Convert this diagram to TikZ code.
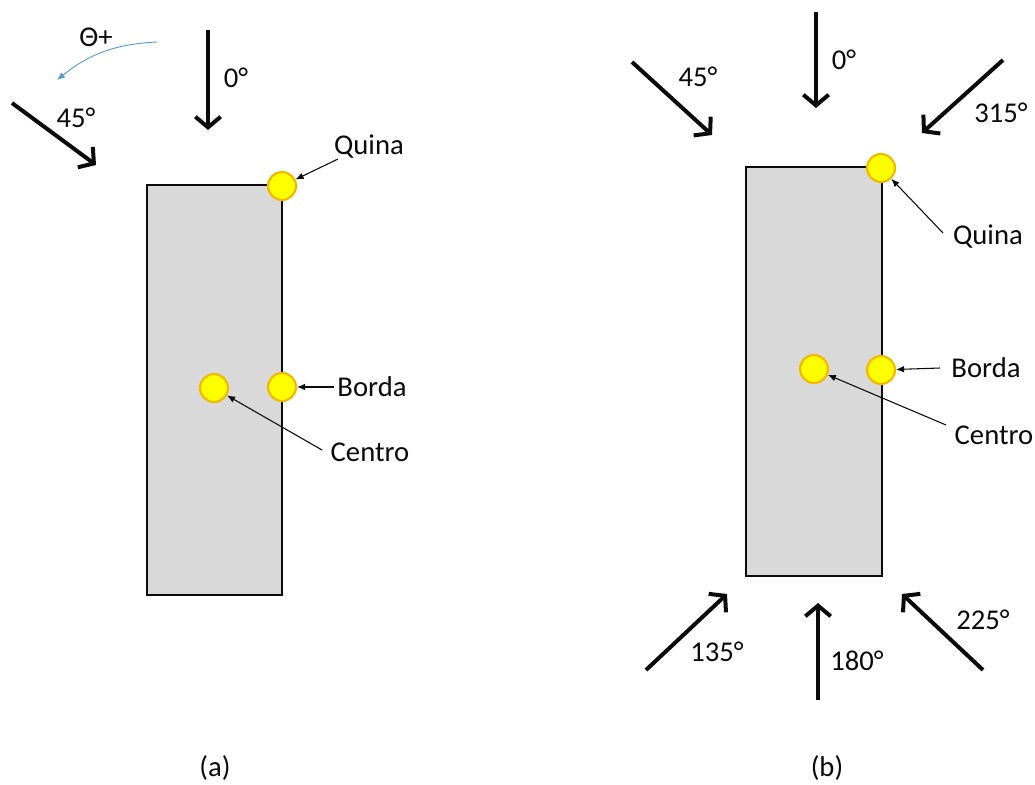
\documentclass[tikz,border=0pt]{standalone}
\usepackage{fontspec}
\setmainfont{Carlito}
\usetikzlibrary{arrows.meta}
\definecolor{plategray}{HTML}{D9D9D9}
\definecolor{gaugefill}{HTML}{FFFF00}
\definecolor{gaugeedge}{HTML}{F5B800}
\definecolor{thetablue}{HTML}{5B9BD5}
\definecolor{ink}{HTML}{0B0B0B}
\tikzset{
  plate/.style={draw=ink, fill=plategray, line width=2.2pt},
  gauge/.style={circle, draw=gaugeedge, fill=gaugefill, line width=1.6pt, minimum size=21pt, inner sep=0pt},
  load/.style={-{Straight Barb[length=8pt, width=19pt]}, line width=3pt, ink},
  ptr/.style={-{Latex[length=6pt, width=5pt]}, line width=0.8pt, ink},
  lbl/.style={font=\fontsize{21.5}{26}\selectfont, text=ink, inner sep=1pt},
}
\begin{document}
\begin{tikzpicture}[x=0.75pt, y=-0.75pt]
  \useasboundingbox (0,0) rectangle (1035,785);
  % (a) plate with the three gauges
  \draw[plate] (147,185) rectangle (282,595);
  \node[gauge] (qa) at (282,186) {};
  \node[gauge] (ba) at (282,387) {};
  \node[gauge] (ca) at (214,388) {};
  \node[lbl] (qla) at (369,147) {Quina};
  \node[lbl] (bla) at (372,387) {Borda};
  \node[lbl] (cla) at (370,452) {Centro};
  \coordinate (qta) at (338,159);
  \coordinate (bta) at (334,387);
  \coordinate (cta) at (322,450);
  \draw[ptr] (qta) -- (qa);
  \draw[ptr] (bta) -- (ba);
  \draw[ptr] (cta) -- (ca);
  % (a) load directions
  \coordinate (a0s) at (208,30);  \coordinate (a0e) at (208,130);
  \coordinate (a45s) at (12,103); \coordinate (a45e) at (96,165);
  \draw[load] (a0s) -- (a0e);
  \draw[load] (a45s) -- (a45e);
  \node[lbl] (a0l) at (236,78) {0°};
  \node[lbl] (a45l) at (76,118) {45°};
  \coordinate (ts) at (157,42); \coordinate (te) at (57,80);
  \draw[-{Latex[length=6pt, width=5pt]}, color=thetablue, line width=0.7pt] (ts) to[bend right=18] (te);
  \node[lbl] (tl) at (96,37) {Θ+};
  \node[lbl] (capa) at (215,768) {(a)};
  % (b) plate with the three gauges
  \draw[plate] (746,167) rectangle (882,576);
  \node[gauge] (qb) at (881,168) {};
  \node[gauge] (bb) at (881,370) {};
  \node[gauge] (cb) at (814,369) {};
  \node[lbl] (qlb) at (988,237) {Quina};
  \node[lbl] (blb) at (986,368) {Borda};
  \node[lbl] (clb) at (994,435) {Centro};
  \coordinate (qtb) at (943,233);
  \coordinate (btb) at (940,368);
  \coordinate (ctb) at (946,425);
  \draw[ptr] (qtb) -- (qb);
  \draw[ptr] (btb) -- (bb);
  \draw[ptr] (ctb) -- (cb);
  % (b) load directions
  \foreach \n/\sx/\sy/\ex/\ey in {b0/816/12/816/108, b45/632/62/712/135, b315/1003/60/922/133,
      b135/646/670/727/594, b180/818/700/818/603, b225/983/670/902/594} {
    \coordinate (\n s) at (\sx,\sy);
    \coordinate (\n e) at (\ex,\ey);
    \draw[load] (\n s) -- (\n e);
  }
  \node[lbl] (b0l) at (844,60) {0°};
  \node[lbl] (b45l) at (698,77) {45°};
  \node[lbl] (b315l) at (1001,113) {315°};
  \node[lbl] (b135l) at (717,652) {135°};
  \node[lbl] (b180l) at (857,661) {180°};
  \node[lbl] (b225l) at (983,620) {225°};
  \node[lbl] (capb) at (827,768) {(b)};
\end{tikzpicture}
\end{document}
